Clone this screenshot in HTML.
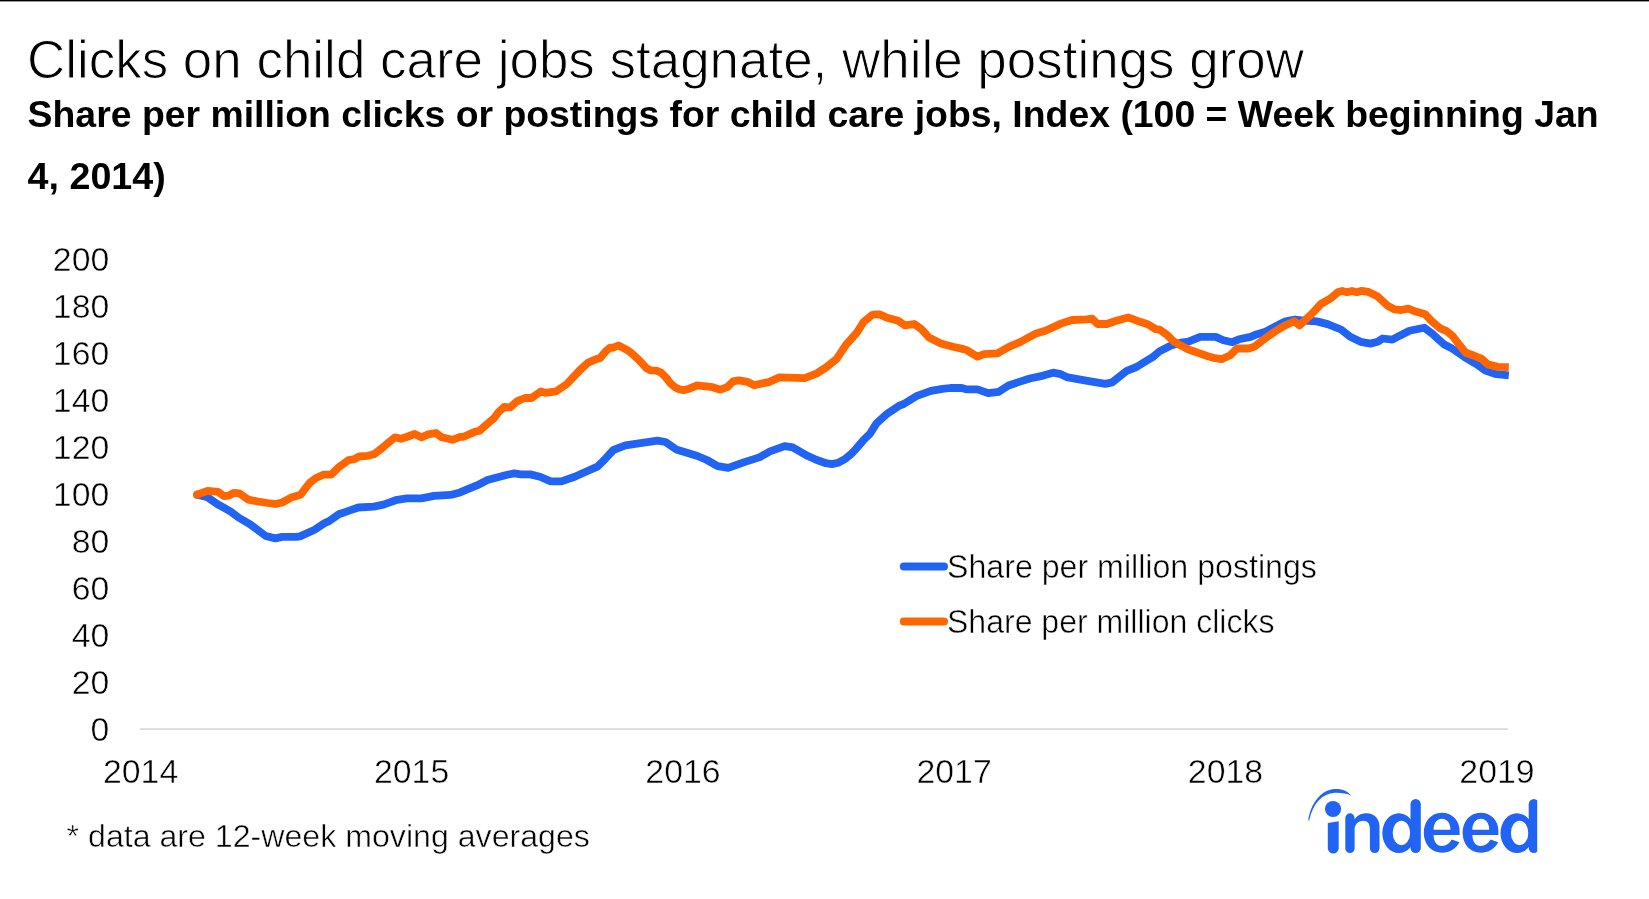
<!DOCTYPE html>
<html><head><meta charset="utf-8"><title>Clicks on child care jobs stagnate, while postings grow</title>
<style>
html,body{margin:0;padding:0;background:#fff;overflow:hidden;}
svg{display:block;will-change:transform;}
text{font-family:"Liberation Sans",sans-serif;fill:#000;}
</style></head><body>
<svg width="1649" height="899" viewBox="0 0 1649 899">
<rect x="0" y="0" width="1649" height="899" fill="#fff"/>
<rect x="0" y="0" width="1649" height="1.4" fill="#000"/>
<text x="27.0" y="77.7" font-size="54.5" stroke="#fff" stroke-width="1.0" textLength="1277.0" lengthAdjust="spacingAndGlyphs">Clicks on child care jobs stagnate, while postings grow</text>
<text x="27.6" y="126.8" font-size="37.5" font-weight="bold" textLength="1571.0" lengthAdjust="spacingAndGlyphs">Share per million clicks or postings for child care jobs, Index (100 = Week beginning Jan</text>
<text x="27.6" y="188.5" font-size="37.5" font-weight="bold" textLength="138.2" lengthAdjust="spacingAndGlyphs">4, 2014)</text>
<g font-size="33" stroke="#fff" stroke-width="0.5"><text x="109.3" y="271.1" text-anchor="end" textLength="56.42" lengthAdjust="spacingAndGlyphs">200</text><text x="109.3" y="318.1" text-anchor="end" textLength="56.42" lengthAdjust="spacingAndGlyphs">180</text><text x="109.3" y="365.1" text-anchor="end" textLength="56.42" lengthAdjust="spacingAndGlyphs">160</text><text x="109.3" y="412.1" text-anchor="end" textLength="56.42" lengthAdjust="spacingAndGlyphs">140</text><text x="109.3" y="459.1" text-anchor="end" textLength="56.42" lengthAdjust="spacingAndGlyphs">120</text><text x="109.3" y="506.1" text-anchor="end" textLength="56.42" lengthAdjust="spacingAndGlyphs">100</text><text x="109.3" y="553.1" text-anchor="end" textLength="37.61" lengthAdjust="spacingAndGlyphs">80</text><text x="109.3" y="600.1" text-anchor="end" textLength="37.61" lengthAdjust="spacingAndGlyphs">60</text><text x="109.3" y="647.1" text-anchor="end" textLength="37.61" lengthAdjust="spacingAndGlyphs">40</text><text x="109.3" y="694.1" text-anchor="end" textLength="37.61" lengthAdjust="spacingAndGlyphs">20</text><text x="109.3" y="741.1" text-anchor="end" textLength="18.81" lengthAdjust="spacingAndGlyphs">0</text></g>
<g font-size="33" stroke="#fff" stroke-width="0.5"><text x="140.6" y="783" text-anchor="middle" textLength="75.30" lengthAdjust="spacingAndGlyphs">2014</text><text x="411.6" y="783" text-anchor="middle" textLength="75.30" lengthAdjust="spacingAndGlyphs">2015</text><text x="683.0" y="783" text-anchor="middle" textLength="75.30" lengthAdjust="spacingAndGlyphs">2016</text><text x="954.1" y="783" text-anchor="middle" textLength="75.30" lengthAdjust="spacingAndGlyphs">2017</text><text x="1225.5" y="783" text-anchor="middle" textLength="75.30" lengthAdjust="spacingAndGlyphs">2018</text><text x="1497.0" y="783" text-anchor="middle" textLength="75.30" lengthAdjust="spacingAndGlyphs">2019</text></g>
<line x1="139.9" y1="729.2" x2="1507.8" y2="729.2" stroke="#d9d9d9" stroke-width="1.8"/>
<polyline points="197.3,494.7 207.5,497.2 217.2,504.0 230.8,511.7 238.5,517.5 250.2,524.3 265.7,536.0 275.4,538.4 282.2,536.9 295.8,536.9 300.0,536.4 314.6,529.8 324.3,523.3 329.1,521.1 338.8,514.3 348.5,510.9 358.3,507.5 373.8,506.6 383.5,504.6 397.1,499.8 406.8,498.3 421.4,498.3 434.0,495.9 450.5,494.9 460.1,492.4 468.9,488.7 476.9,485.4 487.5,480.0 496.9,477.4 506.2,475.0 514.2,473.4 520.9,474.4 530.3,474.4 540.0,476.7 550.7,481.4 561.4,481.4 574.7,476.7 588.1,470.7 597.4,466.7 605.4,458.7 613.4,450.0 625.4,445.4 638.8,443.4 657.5,440.7 665.5,442.0 676.2,449.4 686.9,452.7 697.5,456.0 706.9,460.0 717.6,466.1 728.3,467.8 744.3,462.1 759.3,457.4 770.0,451.4 784.7,446.1 792.7,447.4 806.5,455.4 816.2,459.8 825.9,463.2 831.7,464.1 838.5,462.7 845.3,458.8 850.1,454.9 855.5,449.4 863.5,440.1 870.2,433.4 876.5,423.4 887.2,413.7 898.8,405.9 903.7,404.0 916.3,396.2 930.9,390.9 942.5,388.9 950.3,388.0 961.9,388.0 966.8,389.4 977.5,389.4 988.1,393.1 998.8,391.8 1008.5,385.5 1020.0,381.6 1029.7,378.5 1043.3,375.6 1053.0,372.7 1060.8,374.2 1066.6,377.1 1086.0,380.6 1105.4,383.9 1112.2,382.4 1126.8,370.8 1136.5,367.0 1146.2,361.0 1152.6,357.2 1159.4,351.4 1165.6,348.2 1171.0,345.6 1180.8,342.7 1188.5,341.7 1200.2,336.9 1215.7,336.9 1223.4,340.3 1232.2,342.2 1239.0,339.3 1250.6,336.9 1256.4,334.4 1266.1,331.5 1275.8,326.2 1285.5,321.3 1295.2,319.5 1303.5,320.5 1316.9,321.4 1327.5,324.1 1341.0,329.5 1350.2,336.8 1360.6,341.8 1370.4,343.6 1377.7,341.8 1382.6,338.5 1392.4,339.7 1399.7,335.7 1409.5,330.8 1424.2,327.7 1431.5,333.2 1443.8,344.2 1451.1,347.9 1464.6,357.1 1476.8,364.4 1485.4,370.5 1496.4,374.2 1508.8,375.4" fill="none" stroke="#2164f3" stroke-width="7.8" stroke-linejoin="round" stroke-linecap="butt"/>
<circle cx="197.3" cy="494.7" r="3.9" fill="#2164f3"/>
<polyline points="197.0,494.7 207.5,490.9 218.1,491.8 224.0,496.2 228.8,495.7 233.7,492.8 239.5,493.3 248.2,499.6 257.9,501.5 267.6,503.0 275.4,504.0 282.2,502.5 291.9,497.2 300.6,494.7 309.7,482.8 316.0,478.0 323.3,474.7 331.1,474.7 337.9,467.9 348.5,460.1 354.4,459.2 359.2,456.3 368.0,455.8 373.8,454.3 381.6,448.5 387.4,443.6 395.1,437.3 401.0,438.8 408.0,436.5 414.6,433.9 421.4,437.3 428.2,434.4 435.9,433.0 441.7,437.3 452.4,439.8 460.1,436.9 463.5,436.8 474.2,432.1 479.5,430.7 490.2,421.4 494.0,418.2 498.2,412.5 504.0,407.0 510.2,407.4 516.9,401.4 524.9,398.0 531.6,398.0 540.9,391.4 545.3,392.8 556.0,391.4 566.7,384.1 580.0,370.0 588.1,362.7 597.4,358.7 600.0,358.1 605.8,351.3 609.7,347.9 613.6,347.5 618.4,345.5 626.2,349.4 631.1,352.8 636.9,358.1 640.8,362.0 646.6,368.3 650.5,370.3 656.3,370.7 661.2,372.7 666.0,377.5 670.9,383.8 675.7,387.7 679.5,389.3 683.5,390.1 689.3,388.7 697.1,385.3 705.8,386.3 712.6,387.2 720.4,389.7 727.2,387.2 733.0,381.4 738.8,380.4 747.6,381.9 754.4,385.3 760.1,383.8 768.7,382.1 779.4,377.4 804.7,378.1 816.8,373.4 826.1,367.4 836.8,358.7 846.1,344.7 856.8,332.7 863.5,322.0 872.0,315.0 875.5,314.3 880.0,314.5 886.2,317.4 898.2,320.7 904.9,325.4 914.2,324.0 920.9,328.7 928.9,337.4 940.9,343.4 952.9,346.7 963.6,349.1 966.7,350.1 977.4,356.7 984.0,354.1 997.4,353.4 1009.4,346.7 1020.1,342.1 1036.1,333.4 1045.4,330.7 1061.5,323.4 1072.1,320.0 1086.8,319.4 1092.2,318.7 1097.5,324.0 1106.9,324.0 1116.2,320.7 1128.2,317.4 1140.0,321.8 1147.8,324.2 1155.5,329.1 1159.4,329.6 1167.2,334.9 1174.0,341.7 1180.8,345.6 1188.5,349.5 1198.2,352.9 1207.9,356.3 1215.0,358.2 1221.5,359.2 1230.2,355.3 1237.0,348.5 1248.7,348.5 1254.5,346.6 1262.3,340.7 1270.0,334.9 1275.8,331.0 1285.5,325.2 1294.3,321.3 1299.5,325.4 1311.5,314.1 1320.9,304.0 1330.2,298.7 1338.2,292.0 1342.2,291.0 1347.1,292.2 1352.0,291.0 1356.9,292.2 1361.8,290.8 1369.1,292.2 1377.7,296.5 1387.5,305.7 1394.8,309.4 1400.9,310.0 1408.3,308.7 1415.6,311.6 1425.4,314.3 1431.5,321.0 1440.1,328.3 1446.2,330.8 1452.3,335.7 1458.4,343.6 1465.8,352.8 1474.3,355.8 1481.7,358.9 1487.8,364.4 1497.6,366.9 1508.8,367.1" fill="none" stroke="#ff6600" stroke-width="7.8" stroke-linejoin="round" stroke-linecap="butt"/>
<circle cx="197" cy="494.7" r="3.9" fill="#ff6600"/>
<line x1="903.8" y1="566.4" x2="944" y2="566.4" stroke="#2164f3" stroke-width="8" stroke-linecap="round"/>
<line x1="903.8" y1="621.4" x2="944" y2="621.4" stroke="#ff6600" stroke-width="8" stroke-linecap="round"/>
<text x="947" y="577.8" font-size="32.5" stroke="#fff" stroke-width="0.5" textLength="369.9" lengthAdjust="spacingAndGlyphs">Share per million postings</text>
<text x="947" y="632.9" font-size="32.5" stroke="#fff" stroke-width="0.5" textLength="327.5" lengthAdjust="spacingAndGlyphs">Share per million clicks</text>
<text x="66.6" y="846.8" font-size="31.5" stroke="#fff" stroke-width="0.5" textLength="523.3" lengthAdjust="spacingAndGlyphs">* data are 12-week moving averages</text>
<defs><clipPath id="lc"><rect x="1290" y="780" width="247.2" height="90"/></clipPath></defs>
<g fill="#2164f3" clip-path="url(#lc)">
<path d="M1308.3,820.5 C1310,806 1320,789.5 1335,789 C1343,788.8 1348,791.5 1351.2,795.6 C1347,793.5 1342,792.6 1335,792.7 C1322,793.5 1313,803 1309.2,820.5 Z"/>
<circle cx="1333.05" cy="809.05" r="8.05"/>
<path d="M1327.8,823 L1338.7,821.3 L1338.7,848.2 A5.45,5.45 0 0 1 1327.8,848.2 Z"/>
<path d="M1345.3,817.9 A4.65,4.65 0 0 1 1354.6,817.9 L1354.6,819.5 C1357,815.2 1361.5,813.2 1366.5,813.2 C1374.5,813.2 1379.5,818.5 1379.5,827 L1379.5,848.3 A4.8,4.8 0 0 1 1369.9,848.3 L1369.9,829 C1369.9,823.5 1367.5,820.7 1363.3,820.7 C1358,820.7 1354.6,824.5 1354.6,830 L1354.6,848.45 A4.65,4.65 0 0 1 1345.3,848.45 Z"/>
<g id="dd">
<rect x="1410.5" y="799" width="10.3" height="54.1" rx="5.15"/>
<path fill-rule="evenodd" d="M1382.3,833.15 A16.5,19.95 0 1 0 1415.3,833.15 A16.5,19.95 0 1 0 1382.3,833.15 Z M1392.7,832.95 A8.7,12.25 0 1 0 1410.1,832.95 A8.7,12.25 0 1 0 1392.7,832.95 Z"/>
</g>
<use href="#dd" transform="translate(118.2,0)"/>
<path id="ee" fill-rule="evenodd" d="M1459.6,834.9 L1459.6,831 C1459.6,820 1452,812.7 1441.7,812.7 C1431,812.7 1423.8,821.5 1423.8,832.8 C1423.8,844.5 1431.5,852.8 1442,852.8 C1449.5,852.8 1455.8,849 1459.4,842.3 L1451.8,839.4 C1449.3,843.6 1446.2,845.9 1442,845.9 C1436.5,845.9 1433.6,841 1433.6,834.9 Z M1433.6,829.7 L1450.4,829.7 C1450.4,823 1447,818.7 1442,818.7 C1437,818.7 1433.6,823 1433.6,829.7 Z"/>
<use href="#ee" transform="translate(38.8,0)"/>
</g>
</svg>
</body></html>
